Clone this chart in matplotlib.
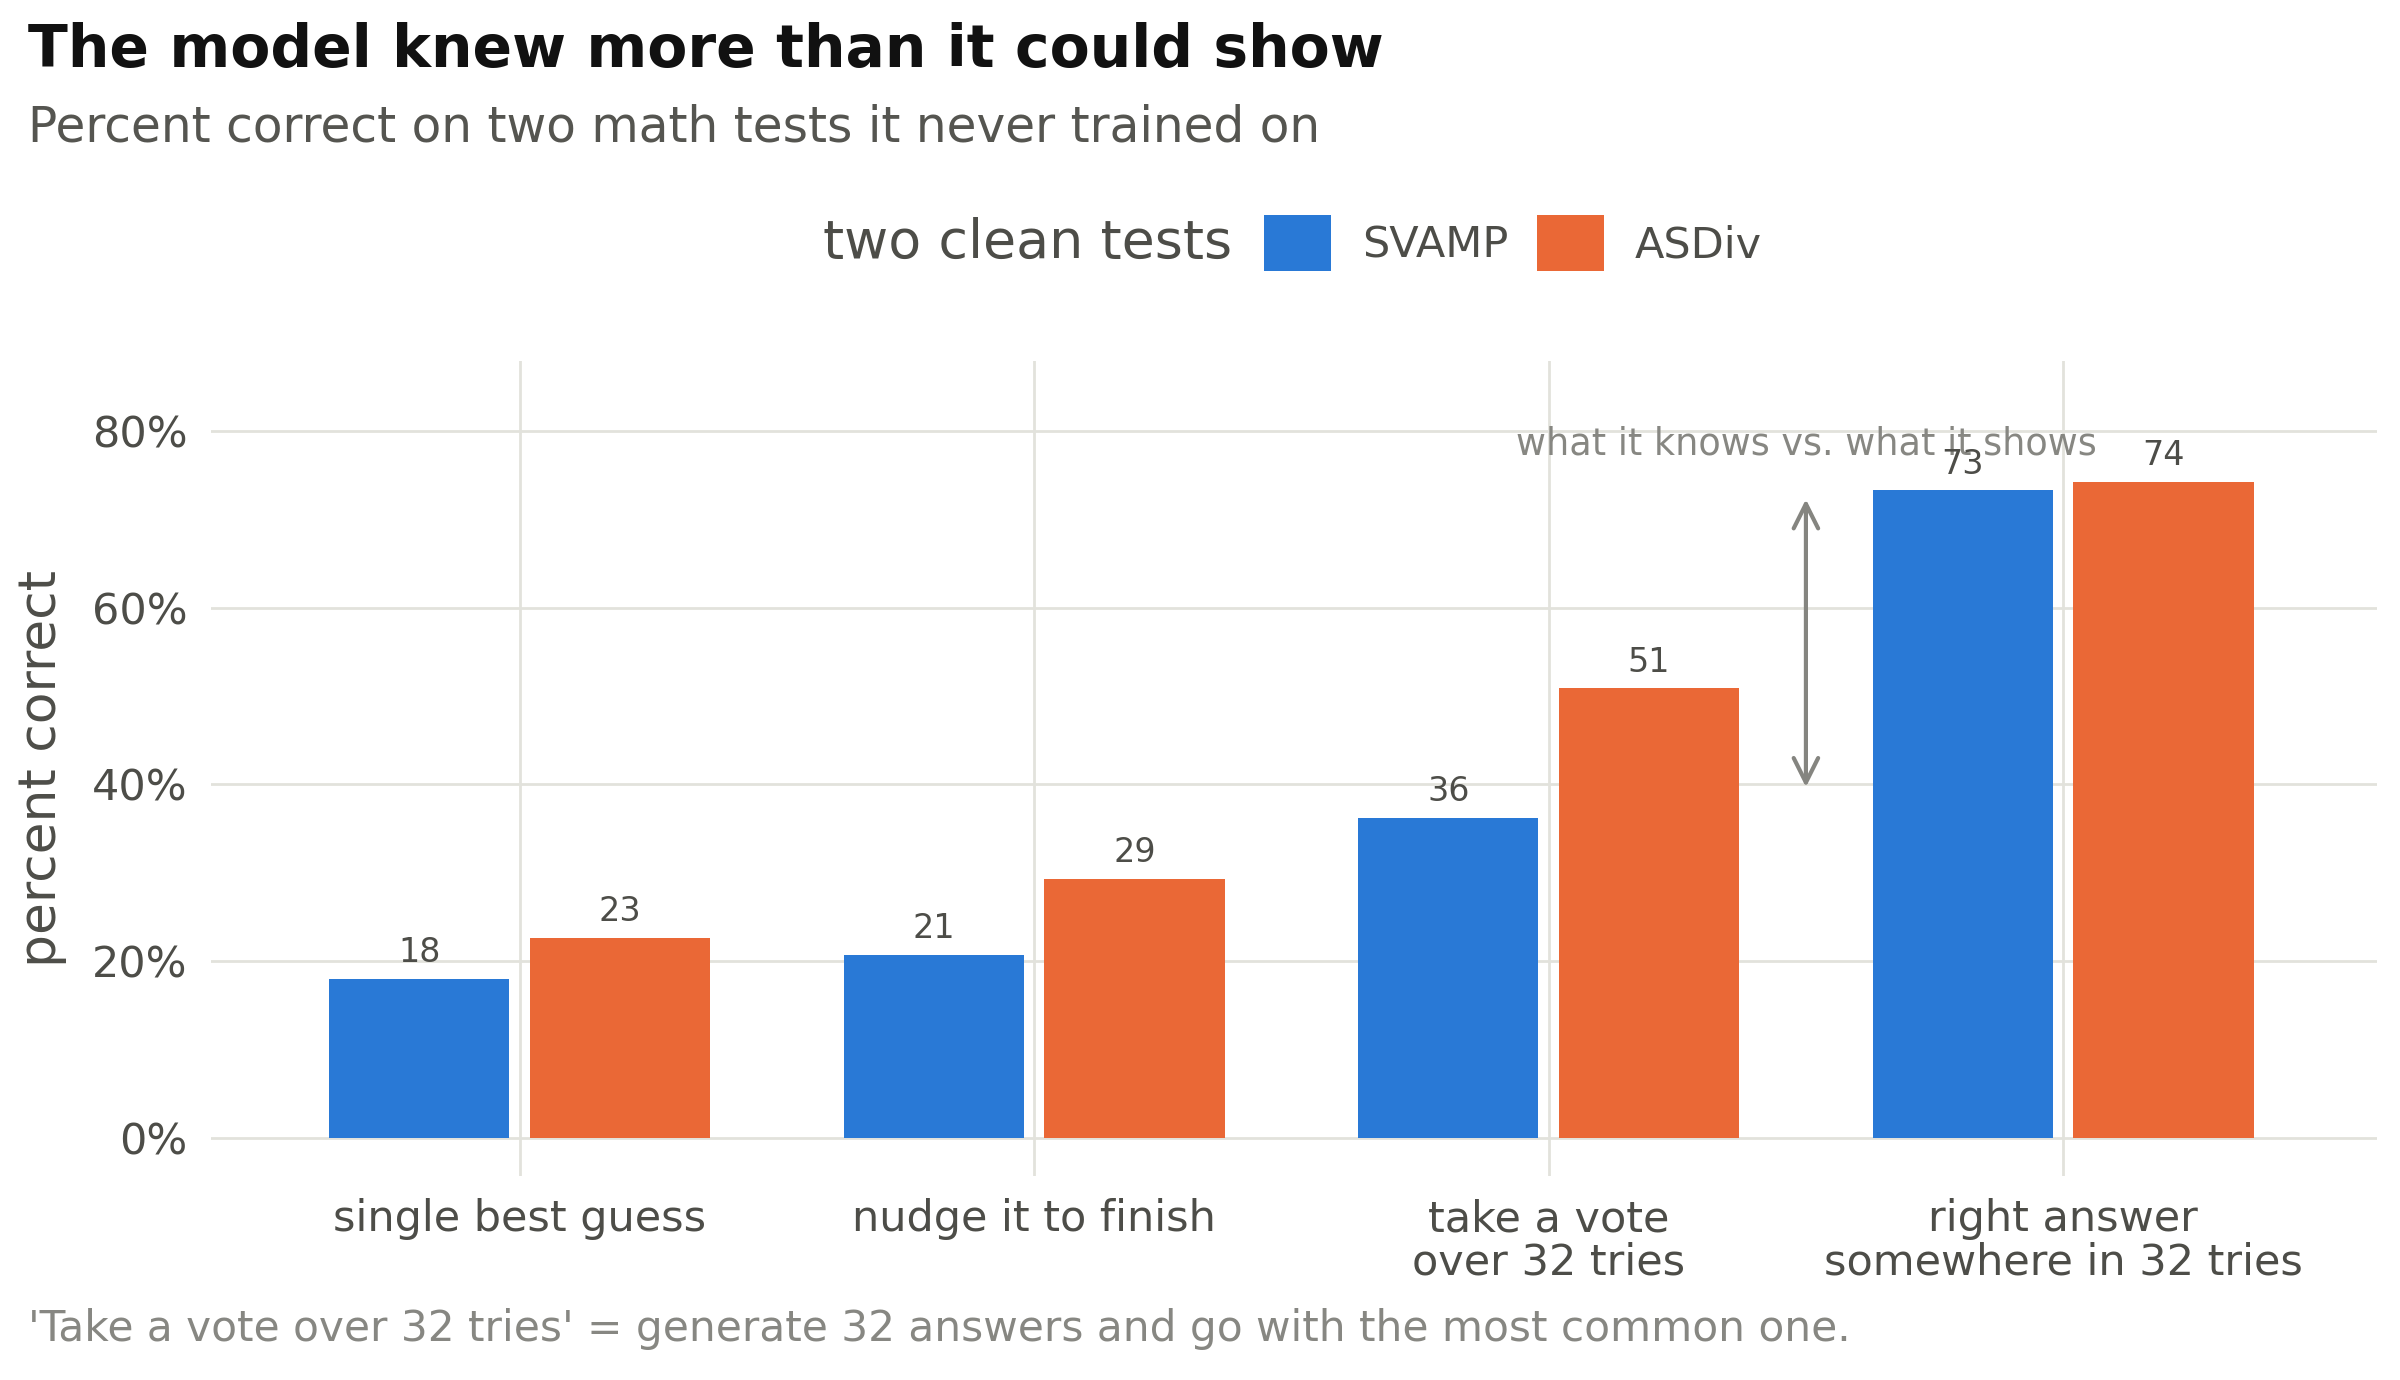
import matplotlib
matplotlib.use("Agg")
import matplotlib.pyplot as plt
import numpy as np
from matplotlib.patches import Patch

plt.rcParams['font.family'] = ['DejaVu Sans']

categories = ["single best guess", "nudge it to finish", "take a vote\nover 32 tries",
              "right answer\nsomewhere in 32 tries"]
series_names = ["SVAMP", "ASDiv"]
svamp = [17.97, 20.7, 36.2, 73.3]
asdiv = [22.6, 29.3, 50.9, 74.3]
yticks = [0, 20, 40, 60, 80]
ytick_labels = ["0%", "20%", "40%", "60%", "80%"]

BLUE = "#2979D6"
ORANGE = "#EA6836"
TXT = "#4d4d48"
GRID = "#e2e2dc"
GRAYTXT = "#878782"

W, H, DPI = 2400, 1380, 200
fig = plt.figure(figsize=(W / DPI, H / DPI), dpi=DPI)
ax = fig.add_axes([211 / W, 1 - 1176 / H, (2377 - 211) / W, (1176 - 361) / H])

x = np.arange(len(categories))
bw = 0.35
off = 0.195
b1 = ax.bar(x - off, svamp, bw, color=BLUE, zorder=3, label=series_names[0])
b2 = ax.bar(x + off, asdiv, bw, color=ORANGE, zorder=3, label=series_names[1])

for bars, vals in ((b1, svamp), (b2, asdiv)):
    for r, v in zip(bars, vals):
        ax.annotate(f"{round(v)}", (r.get_x() + r.get_width() / 2, v), xytext=(0, 3.5),
                    textcoords="offset points", ha="center", va="bottom",
                    fontsize=12, color=TXT, zorder=4)

ax.set_xlim(-0.6, 3.61)
ax.set_ylim(-4.34, 87.96)
ax.set_yticks(yticks)
ax.set_yticklabels(ytick_labels)
ax.set_xticks(x)
ax.set_xticklabels(categories, linespacing=1.05)
ax.tick_params(axis="both", length=0, colors=TXT, labelsize=15.5)
ax.tick_params(axis="y", pad=8.5)
ax.tick_params(axis="x", pad=8)
for s in ax.spines.values():
    s.set_visible(False)
ax.grid(True, color=GRID, linewidth=1.0, zorder=0)
ax.set_axisbelow(True)
ax.set_ylabel("percent correct", fontsize=18.7, color=TXT, labelpad=9)

# annotation
ax.annotate("", xy=(2.5, 72.3), xytext=(2.5, 39.7),
            arrowprops=dict(arrowstyle="<->", color="#858580", lw=1.5,
                            mutation_scale=22, shrinkA=0, shrinkB=0), zorder=2)
ax.text(2.5, 78.6, "what it knows vs. what it shows", ha="center", va="center",
        fontsize=13.2, color=GRAYTXT, zorder=2)

# titles
fig.text(28 / W, 1 - 50 / H, "The model knew more than it could show", fontsize=21,
         fontweight="bold", color="#111111", ha="left", va="center")
fig.text(28 / W, 1 - 127 / H, "Percent correct on two math tests it never trained on",
         fontsize=17.5, color="#555550", ha="left", va="center")

# legend
fig.text(1232 / W, 1 - 243 / H, "two clean tests", fontsize=19.4, color=TXT,
         ha="right", va="center")
handles = [Patch(facecolor=BLUE), Patch(facecolor=ORANGE)]
leg = fig.legend(handles, series_names, loc="center left",
                 bbox_to_anchor=(1264 / W, 1 - 243 / H), ncol=2, frameon=False,
                 fontsize=15.5, handlelength=1.55, handleheight=1.6,
                 handletextpad=0.72, columnspacing=0.68, borderpad=0, borderaxespad=0)
for t in leg.get_texts():
    t.set_color(TXT)

# caption
fig.text(28 / W, 1 - 1329 / H,
         "'Take a vote over 32 tries' = generate 32 answers and go with the most common one.",
         fontsize=15.2, color=GRAYTXT, ha="left", va="center")

fig.savefig("out.png", dpi=DPI)
